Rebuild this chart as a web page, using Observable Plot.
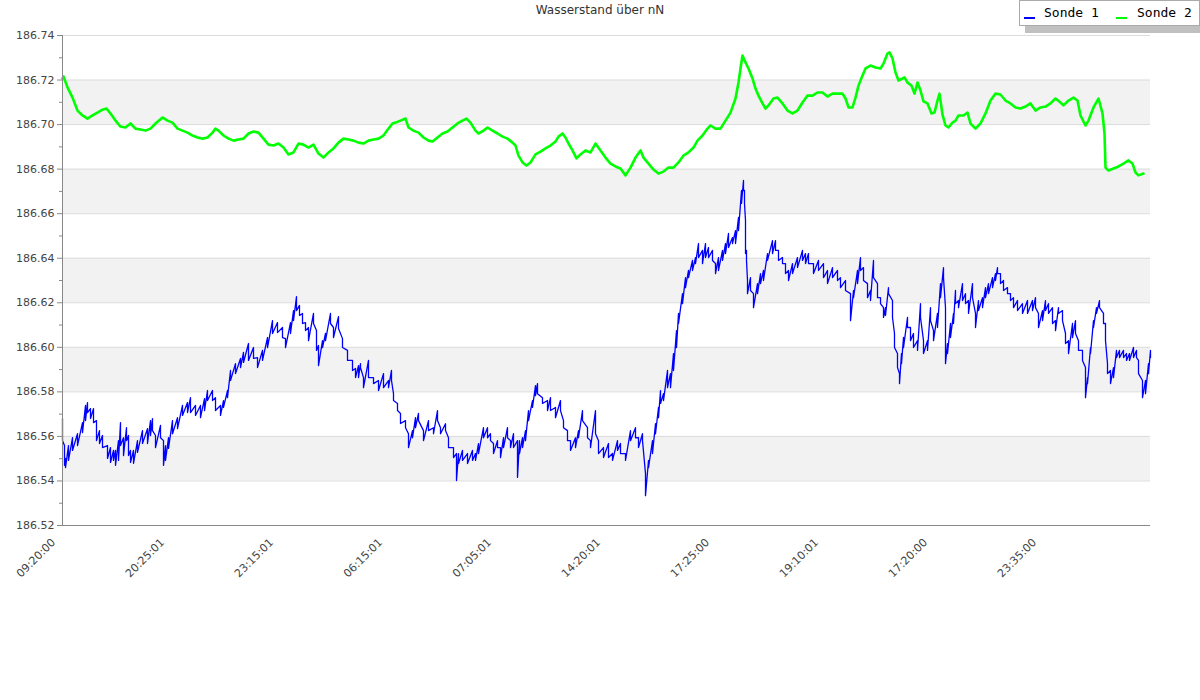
<!DOCTYPE html>
<html>
<head>
<meta charset="utf-8">
<script src="https://cdn.jsdelivr.net/npm/d3@7"></script>
<script src="https://cdn.jsdelivr.net/npm/@observablehq/plot@0.6"></script>
<style>
  body { margin: 0; background: #fff; }
  #wrap { position: relative; width: 1200px; height: 700px; font-family: "DejaVu Sans", sans-serif; }
  #title { position: absolute; left: 0; top: 3px; width: 1200px; text-align: center; font-size: 12px; color: #333; }
  #legend { position: absolute; left: 1019px; top: 0; width: 179px; height: 24px; border: 1px solid #aaa; background: #fff;
            box-shadow: 6px 7px 0 #c0c0c0; font-family: "DejaVu Sans Mono", monospace; font-size: 13px; color: #000; }
  .sw { position: absolute; top: 16px; width: 11px; height: 2px; }
  .lt { position: absolute; top: 4px; }
</style>
</head>
<body>
<div id="wrap">
  <div id="chart"></div>
  <div id="title">Wasserstand über nN</div>
  <div id="legend">
    <div class="sw" style="left:4px;background:#0000ff"></div><div class="lt" style="left:24px">Sonde 1</div>
    <div class="sw" style="left:96px;background:#00ff00"></div><div class="lt" style="left:117px">Sonde 2</div>
  </div>
</div>
<script>
// x axis: sample number and the time labels shown at those samples
const tickSamples = [0, 109, 218, 327, 436, 545, 654, 763, 872, 981];
const tickLabels = ["09:20:00", "20:25:01", "23:15:01", "06:15:01", "07:05:01", "14:20:01", "17:25:00", "19:10:01", "17:20:00", "23:35:00"];

// y axis levels (m über nN)
const gridLevels = [186.52, 186.54, 186.56, 186.58, 186.60, 186.62, 186.64, 186.66, 186.68, 186.70, 186.72, 186.74];
const minorLevels = [186.53, 186.55, 186.57, 186.59, 186.61, 186.63, 186.65, 186.67, 186.69, 186.71, 186.73];
const bandLow = [186.54, 186.58, 186.62, 186.66, 186.70];
const bandHigh = [186.56, 186.60, 186.64, 186.68, 186.72];

// Sonde 1: sample number, max and min level in each interval
const sonde1T = [
  0,2,3,6,10,15,20,23,25,28,
  31,34,37,40,45,48,51,53,56,58,
  61,64,66,68,71,75,80,85,88,90,
  93,98,101,103,106,110,115,120,125,128,
  133,138,142,145,150,153,158,161,165,168,
  173,178,181,186,191,195,200,205,210,215,
  220,223,228,231,234,237,240,243,246,251,
  254,256,260,263,268,271,276,280,285,290,
  293,296,298,301,306,311,316,321,326,329,
  331,335,338,343,346,350,353,356,361,366,
  371,375,378,383,386,391,394,396,400,405,
  410,413,416,421,425,428,431,435,438,441,
  445,448,451,455,457,460,463,466,470,473,
  475,480,485,488,493,498,501,505,508,513,
  516,520,525,528,533,536,541,546,550,555,
  558,563,568,573,576,580,583,586,590,593,
  596,598,601,605,608,611,614,616,620,623,
  626,630,633,636,640,643,646,650,653,656,
  660,663,666,670,673,676,679,681,682,683,
  684,685,688,691,695,698,701,705,710,713,
  716,720,723,726,730,735,740,743,746,751,
  756,761,765,770,775,778,783,788,791,795,
  798,801,805,808,811,815,818,821,823,826,
  830,832,835,837,839,841,845,848,851,855,
  858,861,865,868,871,875,878,881,883,885,
  888,891,893,896,900,903,906,910,913,916,
  920,923,926,930,933,935,938,941,945,948,
  951,955,960,965,970,973,976,980,983,986,
  990,993,996,1000,1003,1006,1010,1013,1016,1020,
  1023,1025,1028,1031,1034,1037,1041,1043,1045,1048,
  1051,1054,1057,1061,1064,1067,1071,1074,1076,1080,
  1083,1086,1088
];
const sonde1Max = [
  186.5680,186.5559,186.5501,186.5559,186.5594,186.5612,186.5662,186.5739,186.5752,186.5725,
  186.5725,186.5671,186.5626,186.5604,186.5559,186.5550,186.5537,186.5537,186.5581,186.5662,
  186.5594,186.5639,186.5604,186.5537,186.5537,186.5581,186.5626,186.5635,186.5671,186.5680,
  186.5604,186.5649,186.5581,186.5559,186.5594,186.5671,186.5684,186.5739,186.5752,186.5774,
  186.5739,186.5739,186.5770,186.5806,186.5806,186.5774,186.5739,186.5761,186.5806,186.5896,
  186.5927,186.5950,186.5977,186.6017,186.5999,186.5954,186.5986,186.6044,186.6120,186.6111,
  186.6089,186.6039,186.6111,186.6165,186.6228,186.6188,186.6152,186.6111,186.6089,186.6152,
  186.6075,186.6008,186.6030,186.6062,186.6152,186.6089,186.6138,186.6039,186.5986,186.5941,
  186.5905,186.5918,186.5927,186.5864,186.5941,186.5864,186.5851,186.5882,186.5851,186.5896,
  186.5792,186.5748,186.5703,186.5671,186.5612,186.5626,186.5684,186.5703,186.5626,186.5671,
  186.5639,186.5716,186.5639,186.5657,186.5594,186.5550,186.5523,186.5523,186.5537,186.5523,
  186.5537,186.5523,186.5568,186.5639,186.5639,186.5612,186.5568,186.5581,186.5550,186.5594,
  186.5639,186.5581,186.5612,186.5581,186.5581,186.5594,186.5626,186.5716,186.5761,186.5828,
  186.5837,186.5774,186.5761,186.5774,186.5730,186.5761,186.5671,186.5626,186.5581,186.5594,
  186.5626,186.5716,186.5639,186.5581,186.5716,186.5581,186.5550,186.5568,186.5523,186.5581,
  186.5568,186.5523,186.5626,186.5639,186.5594,186.5612,186.5433,186.5492,186.5581,186.5657,
  186.5730,186.5806,186.5792,186.5896,186.5882,186.5972,186.6075,186.6152,186.6241,186.6313,
  186.6345,186.6390,186.6403,186.6466,186.6435,186.6466,186.6448,186.6435,186.6376,186.6403,
  186.6435,186.6466,186.6511,186.6493,186.6524,186.6583,186.6704,186.6749,186.6704,186.6569,
  186.6435,186.6300,186.6313,186.6241,186.6286,186.6331,186.6345,186.6421,186.6479,186.6479,
  186.6435,186.6403,186.6376,186.6345,186.6376,186.6403,186.6435,186.6421,186.6421,186.6376,
  186.6390,186.6376,186.6345,186.6358,186.6345,186.6313,186.6300,186.6241,186.6255,186.6345,
  186.6403,186.6358,186.6286,186.6255,186.6390,186.6286,186.6223,186.6178,186.6178,186.6268,
  186.6210,186.6062,186.5972,186.5882,186.5972,186.6044,186.6134,186.6089,186.6062,186.6030,
  186.6196,186.6030,186.6030,186.6178,186.6075,186.6152,186.6286,186.6358,186.6178,186.6017,
  186.6107,186.6152,186.6255,186.6210,186.6286,186.6241,186.6210,186.6286,186.6152,186.6210,
  186.6223,186.6268,186.6286,186.6313,186.6331,186.6358,186.6331,186.6300,186.6268,186.6241,
  186.6223,186.6210,186.6196,186.6210,186.6210,186.6223,186.6152,186.6165,186.6210,186.6196,
  186.6178,186.6120,186.6178,186.6165,186.6062,186.6030,186.6107,186.6120,186.6030,186.5986,
  186.5909,186.5864,186.5999,186.6120,186.6178,186.6210,186.6152,186.6107,186.5927,186.5896,
  186.5909,186.5986,186.5986,186.5986,186.5972,186.5972,186.5999,186.5986,186.5941,186.5851,
  186.5851,186.5927,186.5986
];
const sonde1Min = [
  186.5581,186.5470,186.5460,186.5492,186.5537,186.5559,186.5617,186.5671,186.5707,186.5680,
  186.5662,186.5581,186.5568,186.5550,186.5501,186.5483,186.5492,186.5470,186.5492,186.5559,
  186.5514,186.5581,186.5514,186.5483,186.5479,186.5528,186.5568,186.5568,186.5604,186.5626,
  186.5550,186.5594,186.5470,186.5492,186.5546,186.5612,186.5635,186.5694,186.5707,186.5707,
  186.5694,186.5684,186.5716,186.5761,186.5761,186.5716,186.5694,186.5730,186.5774,186.5851,
  186.5882,186.5909,186.5932,186.5941,186.5950,186.5909,186.5941,186.5999,186.6062,186.6066,
  186.6044,186.5999,186.6062,186.6120,186.6165,186.6143,186.6107,186.6075,186.6030,186.6107,
  186.5986,186.5918,186.5999,186.6030,186.6107,186.6044,186.6084,186.5999,186.5941,186.5896,
  186.5864,186.5864,186.5909,186.5819,186.5864,186.5837,186.5806,186.5819,186.5819,186.5851,
  186.5761,186.5716,186.5658,186.5639,186.5550,186.5594,186.5639,186.5671,186.5581,186.5626,
  186.5612,186.5671,186.5612,186.5626,186.5550,186.5505,186.5402,186.5478,186.5492,186.5478,
  186.5492,186.5492,186.5523,186.5594,186.5594,186.5581,186.5523,186.5550,186.5505,186.5550,
  186.5594,186.5550,186.5550,186.5416,186.5523,186.5550,186.5581,186.5671,186.5730,186.5783,
  186.5792,186.5748,186.5716,186.5716,186.5684,186.5716,186.5639,186.5581,186.5537,186.5550,
  186.5594,186.5671,186.5594,186.5550,186.5612,186.5523,186.5505,186.5505,186.5492,186.5537,
  186.5523,186.5492,186.5581,186.5594,186.5550,186.5581,186.5334,186.5460,186.5523,186.5612,
  186.5684,186.5748,186.5761,186.5819,186.5819,186.5896,186.5999,186.6107,186.6196,186.6268,
  186.6313,186.6345,186.6376,186.6403,186.6376,186.6403,186.6403,186.6390,186.6331,186.6345,
  186.6390,186.6421,186.6448,186.6466,186.6466,186.6524,186.6646,186.6704,186.6646,186.6421,
  186.6390,186.6241,186.6255,186.6178,186.6241,186.6286,186.6300,186.6390,186.6421,186.6435,
  186.6390,186.6376,186.6331,186.6300,186.6331,186.6358,186.6390,186.6376,186.6376,186.6331,
  186.6345,186.6313,186.6286,186.6313,186.6300,186.6268,186.6255,186.6120,186.6223,186.6286,
  186.6345,186.6300,186.6223,186.6210,186.6313,186.6223,186.6196,186.6134,186.6143,186.6241,
  186.6134,186.5999,186.5909,186.5837,186.5927,186.5999,186.6089,186.6030,186.5999,186.5986,
  186.6134,186.5972,186.5986,186.6120,186.6030,186.6089,186.6223,186.6313,186.5927,186.5972,
  186.6044,186.6107,186.6196,186.6178,186.6210,186.6196,186.6152,186.6223,186.6089,186.6165,
  186.6178,186.6223,186.6241,186.6268,186.6300,186.6331,186.6286,186.6255,186.6241,186.6210,
  186.6178,186.6165,186.6152,186.6152,186.6165,186.6178,186.6089,186.6120,186.6165,186.6152,
  186.6107,186.6075,186.6152,186.6120,186.6017,186.5972,186.6044,186.6062,186.5986,186.5941,
  186.5774,186.5837,186.5972,186.6089,186.6152,186.6178,186.6107,186.6030,186.5882,186.5837,
  186.5864,186.5954,186.5954,186.5954,186.5941,186.5941,186.5954,186.5954,186.5882,186.5774,
  186.5792,186.5882,186.5954
];

// Sonde 2: sample number and level
const sonde2T = [
  0,1,5,10,15,20,25,30,35,40,
  44,48,53,58,63,68,73,78,83,88,
  93,100,105,110,115,120,125,130,135,140,
  145,150,153,156,161,166,171,176,181,186,
  191,196,201,206,211,216,221,226,231,236,
  241,246,251,256,261,266,271,276,281,286,
  291,296,301,306,311,316,321,326,330,333,
  338,343,346,351,356,361,366,370,375,380,
  385,390,395,400,404,408,413,416,421,425,
  430,435,440,445,450,453,456,460,464,468,
  473,478,483,488,493,496,500,503,506,510,
  514,518,523,528,533,538,543,548,553,558,
  563,568,573,578,581,586,591,596,601,606,
  611,616,621,626,631,635,640,645,648,653,
  658,663,668,673,676,678,680,683,686,690,
  693,696,700,703,706,711,715,720,725,730,
  735,740,745,750,755,760,765,770,775,780,
  783,786,790,793,796,800,803,808,813,818,
  821,825,827,830,833,836,840,842,845,849,
  852,855,858,861,865,869,872,875,877,880,
  883,886,890,893,896,901,905,908,913,918,
  923,928,933,938,943,948,953,958,963,968,
  973,978,983,988,993,998,1001,1006,1011,1015,
  1018,1023,1026,1031,1036,1040,1042,1043,1046,1051,
  1056,1061,1066,1070,1073,1076,1081
];
const sonde2 = [
  186.7207,186.7216,186.7167,186.7121,186.7063,186.7041,186.7027,186.7041,186.7054,186.7067,
  186.7072,186.7050,186.7018,186.6991,186.6987,186.7005,186.6982,186.6978,186.6973,186.6982,
  186.7005,186.7032,186.7018,186.7009,186.6982,186.6973,186.6964,186.6951,186.6942,186.6937,
  186.6942,186.6964,186.6982,186.6973,186.6951,186.6937,186.6928,186.6933,186.6937,186.6960,
  186.6969,186.6964,186.6937,186.6910,186.6906,186.6915,186.6897,186.6866,186.6875,186.6915,
  186.6910,186.6897,186.6910,186.6870,186.6852,186.6875,186.6893,186.6919,186.6937,186.6933,
  186.6928,186.6919,186.6915,186.6928,186.6933,186.6937,186.6951,186.6982,186.7005,186.7009,
  186.7018,186.7027,186.6987,186.6973,186.6964,186.6942,186.6928,186.6924,186.6942,186.6960,
  186.6969,186.6987,186.7005,186.7018,186.7027,186.7009,186.6973,186.6960,186.6973,186.6987,
  186.6973,186.6960,186.6946,186.6937,186.6919,186.6906,186.6861,186.6830,186.6816,186.6830,
  186.6866,186.6879,186.6893,186.6906,186.6924,186.6946,186.6960,186.6942,186.6915,186.6884,
  186.6848,186.6866,186.6884,186.6875,186.6915,186.6884,186.6852,186.6825,186.6812,186.6803,
  186.6772,186.6807,186.6852,186.6884,186.6852,186.6825,186.6798,186.6780,186.6789,186.6807,
  186.6807,186.6830,186.6861,186.6875,186.6897,186.6928,186.6951,186.6982,186.6996,186.6982,
  186.6982,186.7018,186.7054,186.7117,186.7189,186.7252,186.7310,186.7279,186.7252,186.7207,
  186.7162,186.7130,186.7095,186.7072,186.7086,186.7117,186.7121,186.7095,186.7063,186.7050,
  186.7063,186.7099,186.7130,186.7130,186.7144,186.7144,186.7126,186.7139,186.7139,186.7139,
  186.7117,186.7077,186.7077,186.7121,186.7175,186.7220,186.7252,186.7265,186.7256,186.7252,
  186.7274,186.7319,186.7324,186.7297,186.7234,186.7198,186.7207,186.7212,186.7189,186.7175,
  186.7139,186.7189,186.7153,186.7104,186.7095,186.7050,186.7054,186.7108,186.7139,186.7045,
  186.6996,186.6987,186.7009,186.7018,186.7041,186.7041,186.7054,186.7005,186.6982,186.7005,
  186.7050,186.7108,186.7139,186.7135,186.7108,186.7095,186.7077,186.7072,186.7081,186.7095,
  186.7063,186.7077,186.7081,186.7095,186.7117,186.7099,186.7086,186.7108,186.7121,186.7108,
  186.7041,186.6996,186.7018,186.7077,186.7117,186.7050,186.6960,186.6807,186.6794,186.6803,
  186.6812,186.6825,186.6839,186.6825,186.6785,186.6772,186.6780
];

const s1 = sonde1T.flatMap((t, i) => [{t, v: sonde1Max[i]}, {t, v: sonde1Min[i]}]);
const s2 = sonde2T.map((t, i) => ({t, v: sonde2[i]}));
const bands = bandLow.map((lo, i) => ({lo, hi: bandHigh[i]}));

const chart = Plot.plot({
  width: 1200,
  height: 600,
  marginLeft: 62,
  marginRight: 50,
  marginTop: 35,
  marginBottom: 75,
  x: {domain: [0, 1088], label: null},
  y: {domain: [186.52, 186.74], label: null},
  style: {fontFamily: "DejaVu Sans", fontSize: "11px", color: "#444", background: "transparent"},
  marks: [
    Plot.rectY(bands, {y1: "lo", y2: "hi", fill: "#f2f2f2"}),
    Plot.ruleY(gridLevels, {stroke: "#dcdcdc", strokeWidth: 1}),
    Plot.line(s2, {x: "t", y: "v", stroke: "#00ff00", strokeWidth: 2.6}),
    Plot.line(s1, {x: "t", y: "v", stroke: "#0000ff", strokeWidth: 1.3}),
    Plot.ruleX([0], {stroke: "#888"}),
    Plot.ruleY([186.52], {stroke: "#888"}),
    Plot.axisY(gridLevels, {tickFormat: d => d.toFixed(2), tickSize: 5, tickPadding: 3, stroke: "#888", fill: "#444"}),
    Plot.axisY(minorLevels, {tickFormat: () => "", tickSize: 3, stroke: "#888"}),
    Plot.axisX(tickSamples, {tickFormat: d => tickLabels[tickSamples.indexOf(d)], tickRotate: -45, tickSize: 0, tickPadding: 6, dx: -9, dy: 9, fill: "#444"})
  ]
});
document.getElementById("chart").appendChild(chart);
</script>
</body>
</html>
